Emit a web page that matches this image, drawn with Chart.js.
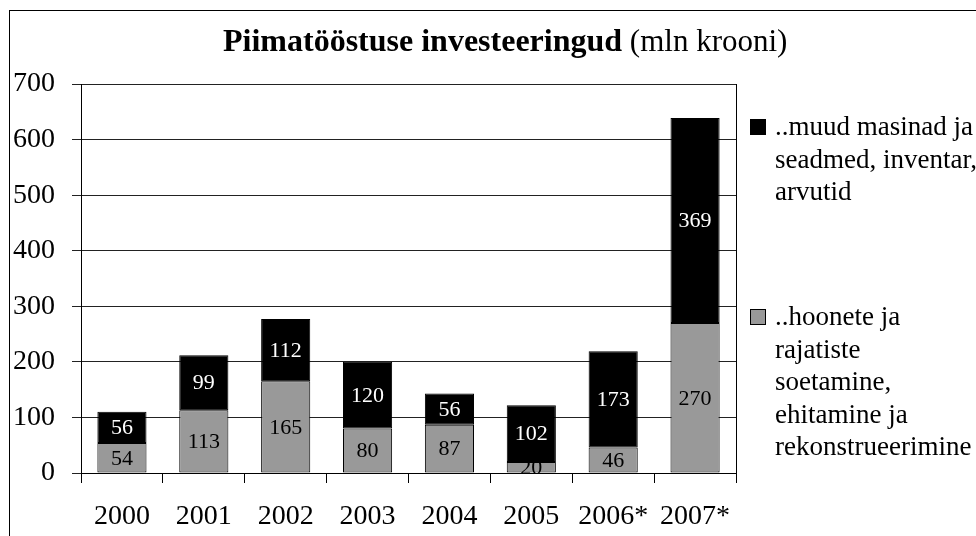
<!DOCTYPE html>
<html>
<head>
<meta charset="utf-8">
<script src="https://cdn.jsdelivr.net/npm/chart.js@4.4.0/dist/chart.umd.min.js"></script>
<style>
  body { margin: 0; background: #fff; }
  #wrap { width: 976px; height: 536px; }
</style>
</head>
<body>
<div id="wrap"><canvas id="piimChart" width="976" height="536"></canvas></div>
<script>
// andmed
const aastad = ['2000', '2001', '2002', '2003', '2004', '2005', '2006*', '2007*'];
const hooned = [54, 113, 165, 80, 87, 20, 46, 270];
const masinad = [56, 99, 112, 120, 56, 102, 173, 369];
const hoonedRead = ['..hoonete ja', 'rajatiste', 'soetamine,', 'ehitamine ja', 'rekonstrueerimine'];
const masinadRead = ['..muud masinad ja', 'seadmed, inventar,', 'arvutid'];
const pealkiriPaks = 'Piimatööstuse investeeringud';
const pealkiriTavaline = ' (mln krooni)';

const FONT = '"Liberation Serif", "Times New Roman", serif';

// raam ümber pildi ja joonise parem serv
const raam = {
  id: 'raam',
  beforeDraw(chart) {
    const ctx = chart.ctx;
    ctx.save();
    ctx.strokeStyle = '#000';
    ctx.lineWidth = 1;
    ctx.strokeRect(9.5, 10.5, 1200, 1200);
    ctx.restore();
  },
  afterDraw(chart) {
    const a = chart.chartArea;
    const ctx = chart.ctx;
    ctx.save();
    ctx.strokeStyle = '#000';
    ctx.lineWidth = 1;
    ctx.beginPath();
    ctx.moveTo(Math.round(a.right) + 0.5, a.top);
    ctx.lineTo(Math.round(a.right) + 0.5, a.bottom);
    ctx.stroke();
    ctx.restore();
  }
};

// pealkiri: osa paksus kirjas, osa tavalises
const pealkiri = {
  id: 'pealkiri',
  afterDraw(chart) {
    const ctx = chart.ctx;
    ctx.save();
    ctx.fillStyle = '#000';
    ctx.textBaseline = 'alphabetic';
    ctx.font = 'bold 32px ' + FONT;
    const w1 = ctx.measureText(pealkiriPaks).width;
    const x0 = 223;
    ctx.fillText(pealkiriPaks, x0, 51);
    ctx.font = '31px ' + FONT;
    ctx.fillText(pealkiriTavaline, x0 + w1, 51);
    ctx.restore();
  }
};

// väärtused tulpade sees
const vaartused = {
  id: 'vaartused',
  afterDatasetsDraw(chart) {
    const ctx = chart.ctx;
    const a = chart.chartArea;
    ctx.save();
    ctx.beginPath();
    ctx.rect(a.left, a.top, a.right - a.left, a.bottom - a.top);
    ctx.clip();
    ctx.font = '22px ' + FONT;
    ctx.textAlign = 'center';
    ctx.textBaseline = 'middle';
    chart.data.datasets.forEach((ds, i) => {
      const meta = chart.getDatasetMeta(i);
      meta.data.forEach((bar, j) => {
        ctx.fillStyle = ds.labelColor;
        ctx.fillText(String(ds.data[j]), bar.x, (bar.y + bar.base) / 2 + 1);
      });
    });
    ctx.restore();
  }
};

// legend mitmel real
const legend = {
  id: 'legendRead',
  afterDraw(chart) {
    const ctx = chart.ctx;
    const ds = chart.data.datasets;
    const osad = [
      { ds: ds[1], read: masinadRead, top: 119 },
      { ds: ds[0], read: hoonedRead, top: 309 }
    ];
    ctx.save();
    osad.forEach(o => {
      ctx.fillStyle = o.ds.backgroundColor;
      ctx.fillRect(750, o.top, 15, 15);
      ctx.strokeStyle = '#000';
      ctx.lineWidth = 1;
      ctx.strokeRect(750.5, o.top + 0.5, 15, 15);
      ctx.fillStyle = '#000';
      ctx.font = '27px ' + FONT;
      ctx.textBaseline = 'middle';
      o.read.forEach((r, k) => {
        ctx.fillText(r, 775, o.top + 9 + k * 32.5);
      });
    });
    ctx.restore();
  }
};

Chart.defaults.font.family = FONT;
Chart.defaults.color = '#000';

const ctx = document.getElementById('piimChart').getContext('2d');
new Chart(ctx, {
  type: 'bar',
  data: {
    labels: aastad,
    datasets: [{
      label: hoonedRead.join(' '),
      data: hooned,
      backgroundColor: '#999999',
      borderColor: '#000',
      borderWidth: 1,
      borderSkipped: false,
      labelColor: '#000'
    }, {
      label: masinadRead.join(' '),
      data: masinad,
      backgroundColor: '#000000',
      borderColor: '#000',
      borderWidth: 1,
      borderSkipped: false,
      labelColor: '#fff'
    }]
  },
  options: {
    responsive: false,
    animation: false,
    layout: { padding: { top: 84, right: 240, left: 0, bottom: 0 } },
    barPercentage: 0.6,
    categoryPercentage: 1,
    plugins: {
      legend: { display: false },
      title: { display: false },
      tooltip: { enabled: false }
    },
    scales: {
      x: {
        stacked: true,
        afterFit(s) { s.height = 63; },
        grid: { offset: true, drawOnChartArea: false, color: '#000', tickLength: 10 },
        border: { color: '#000', width: 1 },
        ticks: { font: { size: 28 }, color: '#000', padding: 17 }
      },
      y: {
        stacked: true,
        min: 0,
        max: 700,
        afterFit(s) { s.width = 81; },
        grid: { color: '#222', tickLength: 9 },
        border: { color: '#000', width: 1 },
        ticks: { stepSize: 100, font: { size: 28 }, color: '#000', padding: 17 }
      }
    }
  },
  plugins: [raam, pealkiri, vaartused, legend]
});
</script>
</body>
</html>
